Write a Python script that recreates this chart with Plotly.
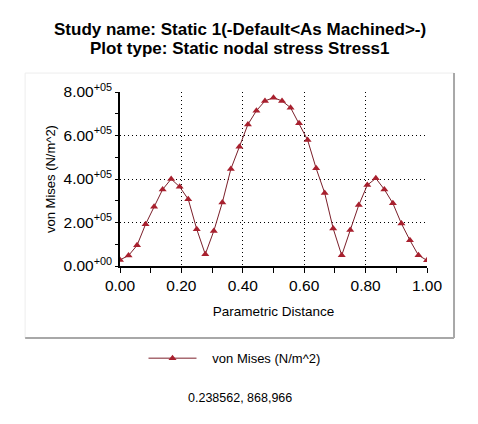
import plotly.graph_objects as go

# Data
n_points = 37
distance = [i / 36 for i in range(n_points)]
von_mises = [
    28000, 48000, 95000, 192000, 272000, 352000, 400000, 364000, 307000, 169000,
    54000, 161000, 292000, 446000, 548000, 651000, 714000, 759000, 774000, 759000,
    728000, 656000, 579000, 449000, 336000, 172000, 49000, 165000, 280000, 372000,
    403000, 352000, 288000, 195000, 118000, 49000, 26000,
]
y_tick_vals = [0, 200000, 400000, 600000, 800000]
y_tick_text = ["0.00<sup>+00</sup>", "2.00<sup>+05</sup>", "4.00<sup>+05</sup>",
               "6.00<sup>+05</sup>", "8.00<sup>+05</sup>"]
x_tick_vals = [0, 0.2, 0.4, 0.6, 0.8, 1.0]
x_tick_text = ["0.00", "0.20", "0.40", "0.60", "0.80", "1.00"]
series_name = "von Mises (N/m^2)"
x_title = "Parametric Distance"
title_lines = ["Study name: Static 1(-Default&lt;As Machined&gt;-)",
               "Plot type: Static nodal stress Stress1"]
cursor_text = "0.238562, 868,966"

FONT = "Liberation Sans, Arial, sans-serif"

# The page body has an 8px margin, so the figure is 8px smaller than the window
W, H = 470, 416

fig = go.Figure()
fig.add_trace(go.Scatter(
    x=distance, y=von_mises, mode="lines+markers",
    name="\u00a0\u00a0\u00a0" + series_name,
    line=dict(color="#7B1F2A", width=1),
    marker=dict(symbol="triangle-up", size=7, color="#A8202E"),
))

fig.update_layout(
    width=W, height=H,
    margin=dict(l=112, r=51, t=84, b=158),
    paper_bgcolor="white", plot_bgcolor="white",
    font=dict(family=FONT, color="black"),
    showlegend=True,
    legend=dict(orientation="h", x=0.373, xanchor="center", y=-0.53, yanchor="middle",
                font=dict(size=13, family=FONT), itemwidth=48, bgcolor="rgba(0,0,0,0)"),
)

# Two-line bold title
for line_text, y_pix in zip(title_lines, [21.5, 40]):
    fig.add_annotation(text="<b>" + line_text + "</b>", xref="paper", yref="paper",
                       x=(232 - 112) / 307, y=(84 + 174 - y_pix) / 174,
                       xanchor="center", yanchor="middle", showarrow=False,
                       font=dict(size=17, family=FONT, color="black"))

fig.update_xaxes(
    range=[0, 1], tickvals=x_tick_vals, ticktext=x_tick_text,
    tickfont=dict(size=15.5, family=FONT),
    ticks="outside", ticklen=5, tickcolor="black",
    minor=dict(dtick=0.1, tick0=0, ticks="outside", ticklen=5, tickcolor="black", showgrid=False),
    showline=True, linecolor="black", linewidth=1.5,
    showgrid=True, gridcolor="black", gridwidth=1, griddash="1px,3px",
    zeroline=False,
    title=dict(text=x_title, font=dict(size=13.5, family=FONT), standoff=13),
)
fig.update_yaxes(
    range=[0, 800000], tickvals=y_tick_vals, ticktext=y_tick_text,
    tickfont=dict(size=15.5, family=FONT),
    ticks="outside", ticklen=3, tickcolor="black",
    minor=dict(dtick=100000, tick0=0, ticks="outside", ticklen=3, tickcolor="black", showgrid=False),
    showline=True, linecolor="black", linewidth=1.5,
    showgrid=True, gridcolor="black", gridwidth=1, griddash="1px,3px",
    zeroline=False,
)

# Y axis title as rotated annotation
fig.add_annotation(text=series_name, xref="paper", yref="paper",
                   x=(42 - 112) / 307, y=0.5, textangle=-90,
                   xanchor="center", yanchor="middle", showarrow=False,
                   font=dict(size=13, family=FONT, color="black"))

# Panel frame (faint top/left edges, grey right/bottom edges)
px0, px1, py0, py1 = -0.309, 1.088, -0.414, 1.109
fig.add_shape(type="line", xref="paper", yref="paper", x0=px0, x1=px1, y0=py1, y1=py1,
              line=dict(color="#EDEDED", width=1))
fig.add_shape(type="line", xref="paper", yref="paper", x0=px0, x1=px0, y0=py0, y1=py1,
              line=dict(color="#EDEDED", width=1))
fig.add_shape(type="line", xref="paper", yref="paper", x0=px1, x1=px1, y0=py0, y1=py1,
              line=dict(color="#A8A8A8", width=2))
fig.add_shape(type="line", xref="paper", yref="paper", x0=px0, x1=px1, y0=py0, y1=py0,
              line=dict(color="#A8A8A8", width=2))

fig.add_annotation(text=cursor_text, xref="paper", yref="paper", x=0.392, y=-0.76,
                   xanchor="center", yanchor="middle", showarrow=False,
                   font=dict(size=12.5, family=FONT, color="black"))

fig.write_html("out.html")
